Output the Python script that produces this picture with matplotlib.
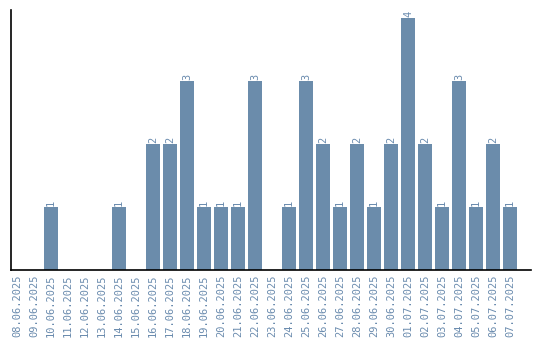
import matplotlib

matplotlib.use("Agg")
import matplotlib.pyplot as plt

DATES = [
    "08.06.2025", "09.06.2025", "10.06.2025", "11.06.2025", "12.06.2025",
    "13.06.2025", "14.06.2025", "15.06.2025", "16.06.2025", "17.06.2025",
    "18.06.2025", "19.06.2025", "20.06.2025", "21.06.2025", "22.06.2025",
    "23.06.2025", "24.06.2025", "25.06.2025", "26.06.2025", "27.06.2025",
    "28.06.2025", "29.06.2025", "30.06.2025", "01.07.2025", "02.07.2025",
    "03.07.2025", "04.07.2025", "05.07.2025", "06.07.2025", "07.07.2025",
]
COUNTS = [0, 0, 1, 0, 0, 0, 1, 0, 2, 2, 3, 1, 1, 1, 3, 0, 1, 3, 2, 1,
          2, 1, 2, 4, 2, 1, 3, 1, 2, 1]

BAR_COLOR = "#6b8cab"
TEXT_COLOR = "#6a8bae"

figure = plt.figure(figsize=(5.4, 3.4), dpi=100)
axis = figure.add_axes([0.0195, 0.206, 0.963, 0.765])
positions = list(range(len(DATES)))
axis.bar(positions, COUNTS, width=0.82, color=BAR_COLOR)
for x, value in zip(positions, COUNTS):
    if value > 0:
        axis.text(x, value + 0.02, str(value), rotation=90, ha="center",
                  va="bottom", fontsize=7.5, family="DejaVu Sans Mono",
                  color=TEXT_COLOR)
axis.set_xlim(-0.38, 30.2)
axis.set_ylim(0, 4.13)
axis.set_xticks(positions, DATES, rotation=90, fontsize=7.5,
                family="DejaVu Sans Mono", color=TEXT_COLOR)
axis.tick_params(axis="x", length=0, pad=3)
axis.set_yticks([])
for side in ("top", "right"):
    axis.spines[side].set_visible(False)
for side in ("left", "bottom"):
    axis.spines[side].set_linewidth(1.2)
figure.savefig("out.png", dpi=100)
